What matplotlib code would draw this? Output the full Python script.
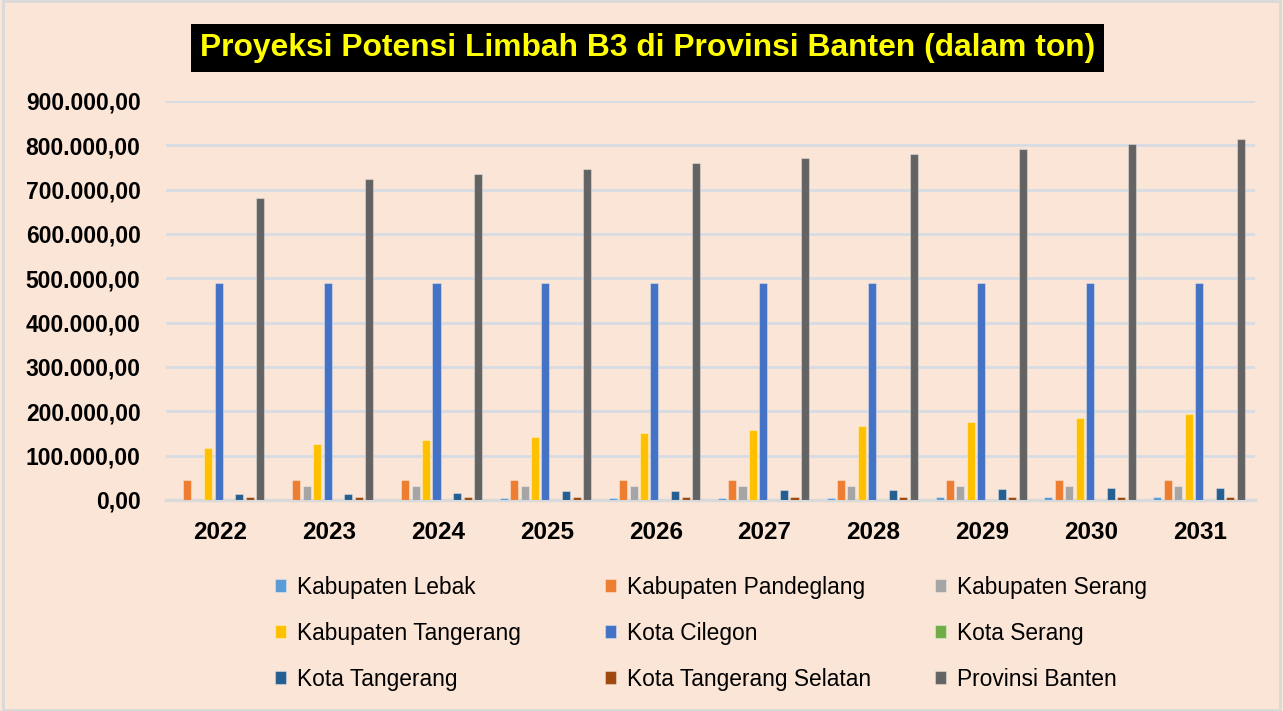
import matplotlib.pyplot as plt
from matplotlib.patches import Rectangle
from matplotlib.ticker import FuncFormatter

years = ["2022", "2023", "2024", "2025", "2026", "2027", "2028", "2029", "2030", "2031"]

lebak = [0, 0, 0, 3500, 3500, 3500, 4000, 6000, 6000, 6000]
pandeglang = [45000, 45000, 45000, 45000, 45000, 45000, 45000, 45000, 45000, 45000]
kab_serang = [0, 31000, 31000, 31000, 31000, 31000, 31000, 31000, 31000, 31000]
kab_tangerang = [117000, 126000, 135000, 143000, 152000, 158000, 167000, 175000, 185000, 194000]
cilegon = [490000, 490000, 490000, 490000, 490000, 490000, 490000, 490000, 490000, 490000]
kota_serang = [0, 0, 0, 0, 0, 0, 0, 0, 0, 0]
kota_tangerang = [13500, 13500, 16000, 19500, 19500, 22000, 22000, 25000, 27000, 27000]
tangsel = [7000, 7000, 7000, 7000, 7000, 7000, 7000, 7000, 7000, 7000]
banten = [681000, 724000, 736000, 747000, 761000, 772000, 781000, 792000, 803000, 815000]

series = [
    ("Kabupaten Lebak", lebak, "#5B9BD5"),
    ("Kabupaten Pandeglang", pandeglang, "#ED7D31"),
    ("Kabupaten Serang", kab_serang, "#A5A5A5"),
    ("Kabupaten Tangerang", kab_tangerang, "#FFC000"),
    ("Kota Cilegon", cilegon, "#4472C4"),
    ("Kota Serang", kota_serang, "#70AD47"),
    ("Kota Tangerang", kota_tangerang, "#255E91"),
    ("Kota Tangerang Selatan", tangsel, "#9E480E"),
    ("Provinsi Banten", banten, "#636363"),
]

BG = "#FBE5D6"
plt.rcParams["font.family"] = ["Liberation Sans", "DejaVu Sans"]

fig = plt.figure(figsize=(12.83, 7.11), dpi=100, facecolor=BG)
ax = fig.add_axes([0.129, 0.2968, 0.849, 0.5612])
ax.set_facecolor(BG)

slot = 0.0955
width = 0.074
handles = []
for i, (name, vals, color) in enumerate(series):
    xs = [k + (i - 4) * slot - 0.012 for k in range(len(years))]
    b = ax.bar(xs, vals, width=width, color=color, label=name,
               edgecolor=(1, 1, 1, 0.35), linewidth=0.8, zorder=3)
    handles.append(b)

ax.set_xlim(-0.5, len(years) - 0.5)
ax.set_ylim(0, 900000)
ax.set_yticks(range(0, 900001, 100000))
ax.yaxis.set_major_formatter(FuncFormatter(
    lambda v, p: f"{v:,.2f}".replace(",", "X").replace(".", ",").replace("X", ".")))
ax.set_xticks(range(len(years)))
ax.set_xticklabels(years)
ax.tick_params(axis="both", length=0, labelcolor="black")
ax.tick_params(axis="x", pad=15, labelsize=17.5)
ax.tick_params(axis="y", pad=18, labelsize=16.5)
for lbl in ax.get_xticklabels() + ax.get_yticklabels():
    lbl.set_fontweight("bold")

ax.grid(axis="y", color="#D6DCE4", linewidth=2, zorder=0)
for s in ["top", "right", "left"]:
    ax.spines[s].set_visible(False)
ax.spines["bottom"].set_color("#D9D9D9")
ax.spines["bottom"].set_linewidth(2.5)

# three legend columns, row-major like the original
col_x = [275 / 1283, 605 / 1283, 935 / 1283]
for c in range(3):
    idx = [c, c + 3, c + 6]
    leg = fig.legend([handles[i] for i in idx], [series[i][0] for i in idx],
                     loc="upper left", bbox_to_anchor=(col_x[c], 1 - 576 / 711),
                     frameon=False, fontsize=16.4, handlelength=0.5, handleheight=0.5,
                     handletextpad=0.45, labelspacing=1.0, borderpad=0, borderaxespad=0)

fig.text(0.505, 0.933, "Proyeksi Potensi Limbah B3 di Provinsi Banten (dalam ton)",
         ha="center", va="center", fontsize=22.9, fontweight="bold", color="#FFFF00",
         bbox=dict(facecolor="black", edgecolor="none", boxstyle="square,pad=0.28"))

fig.patches.append(Rectangle((0.002, 0.002), 0.996, 0.996, transform=fig.transFigure,
                             fill=False, edgecolor="#D9D9D9", linewidth=2))

fig.savefig("out.png", dpi=100, facecolor=BG)
